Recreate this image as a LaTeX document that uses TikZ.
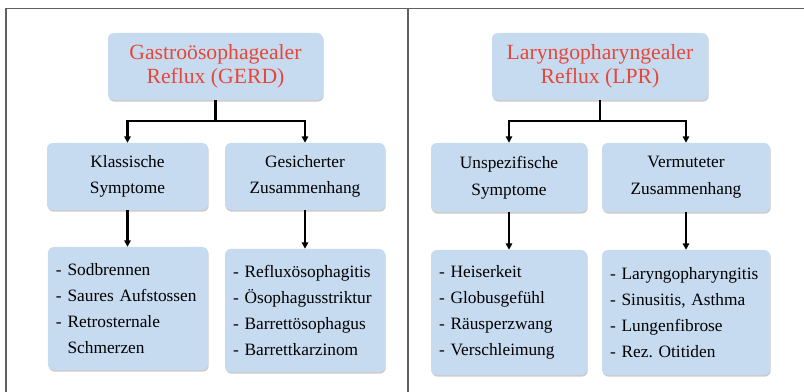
\documentclass[tikz,border=0pt]{standalone}
\usepackage{fontspec}
\setmainfont{Liberation Serif}
\usepackage{tikz}
\usetikzlibrary{arrows.meta,shadows}
\usepackage{xcolor}
\definecolor{boxblue}{RGB}{198,218,240}
\definecolor{titlered}{RGB}{232,70,56}

\begin{document}
\begin{tikzpicture}[>={Triangle[length=1.9mm,width=1.9mm]},line cap=butt,
  box/.style={fill=boxblue,rounded corners=5pt,inner sep=0pt,
    drop shadow={shadow xshift=0.6pt,shadow yshift=-1.4pt,opacity=0.4,fill=gray}},
  titlebox/.style={box,text=titlered,align=center,font=\fontsize{18.5}{20}\selectfont},
  groupbox/.style={box,align=center,font=\fontsize{14.8}{22.8}\selectfont},
  listbox/.style={box,align=left,inner xsep=0.24cm,font=\fontsize{14.8}{22}\selectfont},
  link/.style={line width=1.8pt,->},
  frame/.style={gray!75!black,line width=1.1pt}]
\useasboundingbox (0,0) rectangle (24.12,11.76);
\draw[frame] (0.18,0) -- (0.18,11.505) -- (24.12,11.505);
\draw[frame] (12.24,0) -- (12.24,11.505);
\node[titlebox,minimum width=6.45cm,minimum height=2.01cm] (gerd) at (6.465,9.765) {Gastroösophagealer\\Reflux (GERD)};
\node[groupbox,minimum width=4.83cm,minimum height=2.01cm] (klass) at (3.825,6.465) {Klassische\\Symptome};
\node[groupbox,minimum width=4.8cm,minimum height=2.01cm] (gesich) at (9.15,6.465) {Gesicherter\\Zusammenhang};
\node[listbox,text width=4.32cm,minimum height=3.69cm] (klassList) at (3.84,2.505) {- Sodbrennen\\- Saures Aufstossen\\- Retrosternale\\\phantom{- }Schmerzen};
\node[listbox,text width=4.32cm,minimum height=3.69cm] (gesichList) at (9.15,2.445) {- Refluxösophagitis\\- Ösophagusstriktur\\- Barrettösophagus\\- Barrettkarzinom};
\node[titlebox,minimum width=6.48cm,minimum height=2.01cm] (lpr) at (18.0,9.765) {Laryngopharyngealer\\Reflux (LPR)};
\node[groupbox,minimum width=4.68cm,minimum height=2.07cm] (unspez) at (15.27,6.435) {Unspezifische\\Symptome};
\node[groupbox,minimum width=5.04cm,minimum height=2.07cm] (vermut) at (20.58,6.435) {Vermuteter\\Zusammenhang};
\node[listbox,text width=4.2cm,minimum height=3.75cm] (unspezList) at (15.27,2.385) {- Heiserkeit\\- Globusgefühl\\- Räusperzwang\\- Verschleimung};
\node[listbox,text width=4.56cm,minimum height=3.75cm] (vermutList) at (20.58,2.385) {- Laryngopharyngitis\\- Sinusitis, Asthma\\- Lungenfibrose\\- Rez.\ Otitiden};
\draw[link] (gerd.south) -- ++(0,-0.63) -| (klass.north);
\draw[link] (gerd.south) -- ++(0,-0.63) -| (gesich.north);
\draw[link] (klass.south) -- (klass.south |- klassList.north);
\draw[link] (gesich.south) -- (gesich.south |- gesichList.north);
\draw[link] (lpr.south) -- ++(0,-0.63) -| (unspez.north);
\draw[link] (lpr.south) -- ++(0,-0.63) -| (vermut.north);
\draw[link] (unspez.south) -- (unspez.south |- unspezList.north);
\draw[link] (vermut.south) -- (vermut.south |- vermutList.north);
\end{tikzpicture}
\end{document}
